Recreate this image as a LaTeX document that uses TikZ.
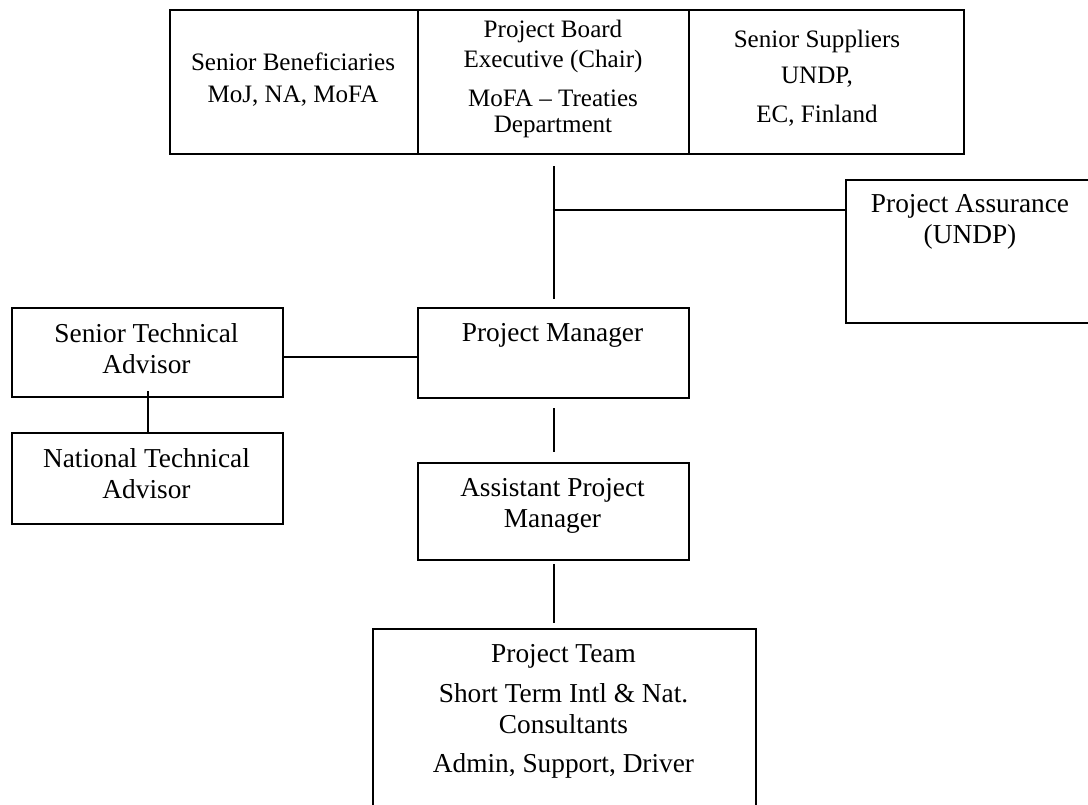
\documentclass[tikz,border=0pt]{standalone}
\usepackage{fontspec}
\setmainfont{Liberation Serif}
\begin{document}
\begin{tikzpicture}[x=0.75pt,y=-0.75pt,
  box/.style={draw, line width=1.5pt, inner sep=0pt, anchor=north west},
  toptext/.style={anchor=north, inner sep=0pt, align=center, font=\fontsize{18.8}{24}\selectfont},
  maintext/.style={anchor=north, inner sep=0pt, align=center, font=\fontsize{20.5}{23.25}\selectfont},
  link/.style={line width=1.5pt}]
\useasboundingbox (0,0) rectangle (1088,804);
\fill[white] (0,0) rectangle (1088,804);

% top board
\node[box, minimum width=186pt, minimum height=108pt] (sb) at (169,9) {};
\node[box, minimum width=203.25pt, minimum height=108pt] (pb) at (417,9) {};
\node[box, minimum width=206.25pt, minimum height=108pt] (ss) at (688,9) {};
\node[toptext] (sbT) at (293,52.9) {Senior Beneficiaries\\MoJ, NA, MoFA};
\node[toptext, font=\fontsize{18.8}{22.5}\selectfont] (pbT) at (553,19.9) {Project Board\\Executive (Chair)\\[6.75pt]MoFA – Treaties\\[-3pt]Department};
\node[toptext, font=\fontsize{18.8}{27}\selectfont] (ssT) at (817,29.9) {Senior Suppliers\\UNDP,\\[2.25pt]EC, Finland};

% assurance
\node[box, minimum width=191.25pt, minimum height=107.25pt] (pa) at (845,179) {};
\node[maintext] (paT) at (970,194.3) {Project Assurance\\(UNDP)};

% middle row
\node[box, minimum width=203.25pt, minimum height=66.75pt] (sta) at (11,307) {};
\node[maintext] (staT) at (146.5,323.3) {Senior Technical\\Advisor};
\node[box, minimum width=203.25pt, minimum height=67.5pt] (pm) at (417,307) {};
\node[maintext] (pmT) at (552.5,323.3) {Project Manager};
\node[box, minimum width=203.25pt, minimum height=68.25pt] (nta) at (11,432) {};
\node[maintext] (ntaT) at (146.5,448.3) {National Technical\\Advisor};

% lower
\node[box, minimum width=203.25pt, minimum height=72.75pt] (apm) at (417,462) {};
\node[maintext] (apmT) at (552.5,478.3) {Assistant Project\\Manager};
\node[box, minimum width=287.25pt, minimum height=159pt] (team) at (372,628) {};
\node[maintext] (teamT) at (563.5,644.3) {Project Team\\[6.4pt]Short Term Intl \& Nat.\\Consultants\\[6.4pt]Admin, Support, Driver};

% connectors
\draw[link, shorten <=8.25pt, shorten >=6pt] (pb.south) -- (pm.north);
\coordinate (j) at (552.5,210);
\draw[link] (j) -- (j -| pa.west);
\coordinate (h) at (0,357);
\draw[link] (sta.east |- h) -- (pm.west |- h);
\draw[link] ([yshift=5.25pt]sta.south) -- ([yshift=-1.5pt]nta.north);
\draw[link, shorten <=6.75pt, shorten >=7.5pt] (pm.south) -- (apm.north);
\draw[link, shorten <=2.25pt, shorten >=3.75pt] (apm.south) -- (apm.south |- team.north);
\end{tikzpicture}
\end{document}
